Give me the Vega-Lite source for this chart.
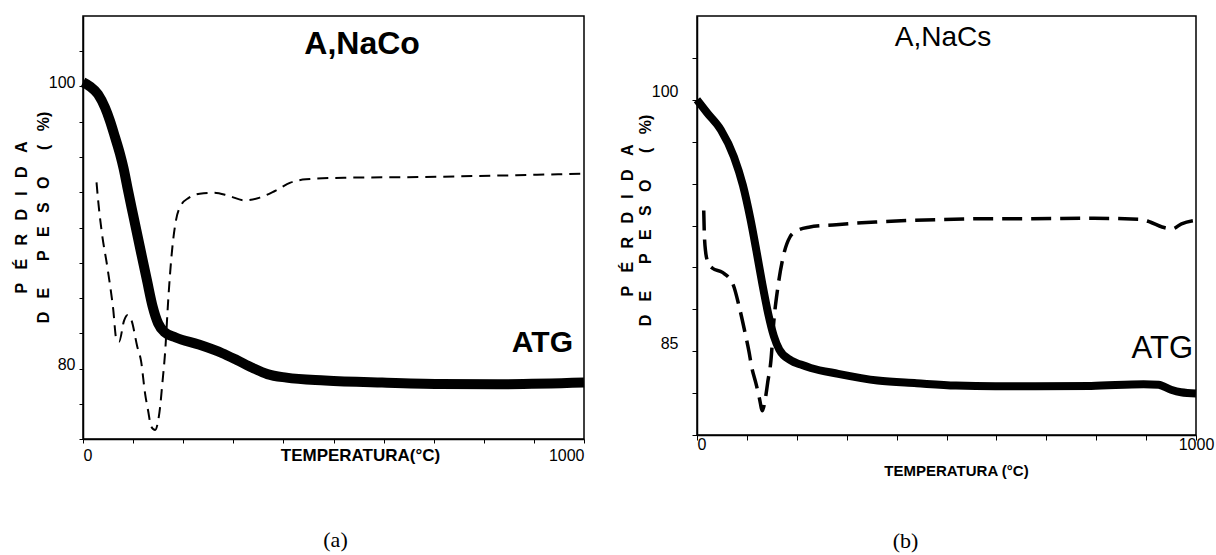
{
  "$schema": "https://vega.github.io/schema/vega-lite/v6.json",
  "background": "white",
  "padding": {"left": 12, "top": 15, "right": 0, "bottom": 0},
  "spacing": 13,
  "config": {
    "view": {"stroke": "black", "strokeWidth": 1.5},
    "axis": {
      "domainColor": "black", "domainWidth": 1.5, "tickColor": "black", "tickWidth": 1,
      "labelColor": "black", "titleColor": "black", "grid": false,
      "labelFont": "Liberation Sans", "titleFont": "Liberation Sans", "labelOverlap": false
    },
    "title": {"color": "black"}
  },
  "datasets": {
    "curves": [
      {"panel": "a", "series": "TG", "temp": 0, "value": 100.3},
      {"panel": "a", "series": "TG", "temp": 14, "value": 100.0},
      {"panel": "a", "series": "TG", "temp": 30, "value": 99.45},
      {"panel": "a", "series": "TG", "temp": 44, "value": 98.5},
      {"panel": "a", "series": "TG", "temp": 54, "value": 97.55},
      {"panel": "a", "series": "TG", "temp": 64, "value": 96.4},
      {"panel": "a", "series": "TG", "temp": 74, "value": 95.2},
      {"panel": "a", "series": "TG", "temp": 81, "value": 94.2},
      {"panel": "a", "series": "TG", "temp": 90, "value": 92.6},
      {"panel": "a", "series": "TG", "temp": 100, "value": 90.9},
      {"panel": "a", "series": "TG", "temp": 116, "value": 88.2},
      {"panel": "a", "series": "TG", "temp": 128, "value": 86.2},
      {"panel": "a", "series": "TG", "temp": 139, "value": 84.4},
      {"panel": "a", "series": "TG", "temp": 150, "value": 83.2},
      {"panel": "a", "series": "TG", "temp": 162, "value": 82.6},
      {"panel": "a", "series": "TG", "temp": 185, "value": 82.2},
      {"panel": "a", "series": "TG", "temp": 231, "value": 81.7},
      {"panel": "a", "series": "TG", "temp": 277, "value": 81.1},
      {"panel": "a", "series": "TG", "temp": 307, "value": 80.6},
      {"panel": "a", "series": "TG", "temp": 338, "value": 80.05},
      {"panel": "a", "series": "TG", "temp": 368, "value": 79.6},
      {"panel": "a", "series": "TG", "temp": 406, "value": 79.35},
      {"panel": "a", "series": "TG", "temp": 483, "value": 79.15},
      {"panel": "a", "series": "TG", "temp": 597, "value": 79.0},
      {"panel": "a", "series": "TG", "temp": 712, "value": 78.9},
      {"panel": "a", "series": "TG", "temp": 827, "value": 78.88},
      {"panel": "a", "series": "TG", "temp": 1000, "value": 79.0},

      {"panel": "a", "series": "DTG", "temp": 27, "value": 93.2},
      {"panel": "a", "series": "DTG", "temp": 30, "value": 92.0},
      {"panel": "a", "series": "DTG", "temp": 37, "value": 89.8},
      {"panel": "a", "series": "DTG", "temp": 49, "value": 87.1},
      {"panel": "a", "series": "DTG", "temp": 60, "value": 84.3},
      {"panel": "a", "series": "DTG", "temp": 67, "value": 82.0},
      {"panel": "a", "series": "DTG", "temp": 72, "value": 81.9},
      {"panel": "a", "series": "DTG", "temp": 82, "value": 83.4},
      {"panel": "a", "series": "DTG", "temp": 89, "value": 83.8},
      {"panel": "a", "series": "DTG", "temp": 97, "value": 83.4},
      {"panel": "a", "series": "DTG", "temp": 108, "value": 81.6},
      {"panel": "a", "series": "DTG", "temp": 116, "value": 80.5},
      {"panel": "a", "series": "DTG", "temp": 124, "value": 78.2},
      {"panel": "a", "series": "DTG", "temp": 130, "value": 77.0},
      {"panel": "a", "series": "DTG", "temp": 136, "value": 75.9},
      {"panel": "a", "series": "DTG", "temp": 144, "value": 75.64},
      {"panel": "a", "series": "DTG", "temp": 150, "value": 76.3},
      {"panel": "a", "series": "DTG", "temp": 154, "value": 77.3},
      {"panel": "a", "series": "DTG", "temp": 158, "value": 78.8},
      {"panel": "a", "series": "DTG", "temp": 164, "value": 81.2},
      {"panel": "a", "series": "DTG", "temp": 170, "value": 84.8},
      {"panel": "a", "series": "DTG", "temp": 177, "value": 88.1},
      {"panel": "a", "series": "DTG", "temp": 185, "value": 90.4},
      {"panel": "a", "series": "DTG", "temp": 196, "value": 91.6},
      {"panel": "a", "series": "DTG", "temp": 211, "value": 92.1},
      {"panel": "a", "series": "DTG", "temp": 233, "value": 92.4},
      {"panel": "a", "series": "DTG", "temp": 262, "value": 92.47},
      {"panel": "a", "series": "DTG", "temp": 292, "value": 92.23},
      {"panel": "a", "series": "DTG", "temp": 322, "value": 91.93},
      {"panel": "a", "series": "DTG", "temp": 353, "value": 92.12},
      {"panel": "a", "series": "DTG", "temp": 383, "value": 92.59},
      {"panel": "a", "series": "DTG", "temp": 414, "value": 93.18},
      {"panel": "a", "series": "DTG", "temp": 445, "value": 93.42},
      {"panel": "a", "series": "DTG", "temp": 521, "value": 93.53},
      {"panel": "a", "series": "DTG", "temp": 674, "value": 93.58},
      {"panel": "a", "series": "DTG", "temp": 827, "value": 93.68},
      {"panel": "a", "series": "DTG", "temp": 1000, "value": 93.82},

      {"panel": "b", "series": "TG", "temp": 0, "value": 100.0},
      {"panel": "b", "series": "TG", "temp": 21, "value": 99.2},
      {"panel": "b", "series": "TG", "temp": 48, "value": 98.2},
      {"panel": "b", "series": "TG", "temp": 74, "value": 96.6},
      {"panel": "b", "series": "TG", "temp": 92, "value": 94.9},
      {"panel": "b", "series": "TG", "temp": 107, "value": 92.9},
      {"panel": "b", "series": "TG", "temp": 119, "value": 91.0},
      {"panel": "b", "series": "TG", "temp": 131, "value": 89.0},
      {"panel": "b", "series": "TG", "temp": 143, "value": 87.2},
      {"panel": "b", "series": "TG", "temp": 154, "value": 85.9},
      {"panel": "b", "series": "TG", "temp": 165, "value": 85.1},
      {"panel": "b", "series": "TG", "temp": 188, "value": 84.45},
      {"panel": "b", "series": "TG", "temp": 208, "value": 84.2},
      {"panel": "b", "series": "TG", "temp": 228, "value": 84.0},
      {"panel": "b", "series": "TG", "temp": 283, "value": 83.65},
      {"panel": "b", "series": "TG", "temp": 362, "value": 83.25},
      {"panel": "b", "series": "TG", "temp": 440, "value": 83.09},
      {"panel": "b", "series": "TG", "temp": 519, "value": 82.95},
      {"panel": "b", "series": "TG", "temp": 598, "value": 82.91},
      {"panel": "b", "series": "TG", "temp": 676, "value": 82.91},
      {"panel": "b", "series": "TG", "temp": 790, "value": 82.93},
      {"panel": "b", "series": "TG", "temp": 895, "value": 83.03},
      {"panel": "b", "series": "TG", "temp": 925, "value": 83.0},
      {"panel": "b", "series": "TG", "temp": 950, "value": 82.7},
      {"panel": "b", "series": "TG", "temp": 970, "value": 82.55},
      {"panel": "b", "series": "TG", "temp": 1000, "value": 82.48},

      {"panel": "b", "series": "DTG", "temp": 13.5, "value": 93.4},
      {"panel": "b", "series": "DTG", "temp": 14.5, "value": 92.2},
      {"panel": "b", "series": "DTG", "temp": 17, "value": 91.0},
      {"panel": "b", "series": "DTG", "temp": 22, "value": 90.3},
      {"panel": "b", "series": "DTG", "temp": 31, "value": 89.95},
      {"panel": "b", "series": "DTG", "temp": 51, "value": 89.7},
      {"panel": "b", "series": "DTG", "temp": 72, "value": 89.0},
      {"panel": "b", "series": "DTG", "temp": 85, "value": 87.6},
      {"panel": "b", "series": "DTG", "temp": 97, "value": 86.0},
      {"panel": "b", "series": "DTG", "temp": 104, "value": 85.0},
      {"panel": "b", "series": "DTG", "temp": 110, "value": 84.0},
      {"panel": "b", "series": "DTG", "temp": 118, "value": 83.1},
      {"panel": "b", "series": "DTG", "temp": 125, "value": 82.2},
      {"panel": "b", "series": "DTG", "temp": 131, "value": 81.45},
      {"panel": "b", "series": "DTG", "temp": 136, "value": 82.0},
      {"panel": "b", "series": "DTG", "temp": 142, "value": 83.2},
      {"panel": "b", "series": "DTG", "temp": 148, "value": 84.4},
      {"panel": "b", "series": "DTG", "temp": 154, "value": 86.8},
      {"panel": "b", "series": "DTG", "temp": 162, "value": 88.8},
      {"panel": "b", "series": "DTG", "temp": 174, "value": 90.8},
      {"panel": "b", "series": "DTG", "temp": 186, "value": 91.8},
      {"panel": "b", "series": "DTG", "temp": 201, "value": 92.2},
      {"panel": "b", "series": "DTG", "temp": 224, "value": 92.4},
      {"panel": "b", "series": "DTG", "temp": 279, "value": 92.55},
      {"panel": "b", "series": "DTG", "temp": 358, "value": 92.71},
      {"panel": "b", "series": "DTG", "temp": 436, "value": 92.81},
      {"panel": "b", "series": "DTG", "temp": 515, "value": 92.87},
      {"panel": "b", "series": "DTG", "temp": 594, "value": 92.91},
      {"panel": "b", "series": "DTG", "temp": 672, "value": 92.91},
      {"panel": "b", "series": "DTG", "temp": 790, "value": 92.93},
      {"panel": "b", "series": "DTG", "temp": 885, "value": 92.87},
      {"panel": "b", "series": "DTG", "temp": 908, "value": 92.71},
      {"panel": "b", "series": "DTG", "temp": 932, "value": 92.41},
      {"panel": "b", "series": "DTG", "temp": 952, "value": 92.3},
      {"panel": "b", "series": "DTG", "temp": 971, "value": 92.6},
      {"panel": "b", "series": "DTG", "temp": 1000, "value": 92.81}
    ]
  },
  "hconcat": [
    {
      "width": 501,
      "height": 423,
      "title": {"text": "(a)", "orient": "bottom", "font": "Liberation Serif", "fontSize": 22, "fontWeight": "normal", "offset": 67, "dx": 2},
      "encoding": {
        "x": {
          "field": "temp", "type": "quantitative",
          "scale": {"domain": [0, 1000], "nice": false, "zero": false},
          "axis": {
            "values": [0, 100, 200, 300, 400, 500, 600, 700, 800, 900, 1000],
            "labelExpr": "datum.value == 0 ? '0' : (datum.value == 1000 ? '1000' : '')",
            "labelFlush": true,
            "labelFontSize": 16, "labelPadding": 4, "tickSize": 4,
            "title": "TEMPERATURA(°C)", "titleFontSize": 17, "titleFontWeight": "bold",
            "titleX": 277, "titleY": 8, "titleBaseline": "top", "titleAlign": "center"
          }
        },
        "y": {
          "field": "value", "type": "quantitative",
          "scale": {"domain": [75, 105], "nice": false, "zero": false},
          "axis": {
            "values": [75, 77.5, 80, 82.5, 85, 87.5, 90, 92.5, 95, 97.5, 100, 102.5],
            "labelExpr": "datum.value == 80 || datum.value == 100 ? datum.label : ''",
            "labelFontSize": 16, "labelPadding": 4, "tickSize": 4, "labelOffset": -4,
            "title": ["P\u2002\u2004É\u2002\u2004R\u2002\u2004D\u2002\u2004I\u2002\u2004D\u2002\u2004A", "D\u2002\u2004E\u2002\u2004\u2002\u2004P\u2002\u2004E\u2002\u2004S\u2002\u2004O\u2002\u2004\u2002\u2004(\u2002\u2004%)"],
            "titleFontSize": 16, "titleFontWeight": "bold", "titleLineHeight": 22, "titlePadding": -3,
            "titleY": 201
          }
        }
      },
      "layer": [
        {
          "data": {"name": "curves"},
          "transform": [{"filter": "datum.panel == 'a' && datum.series == 'TG'"}],
          "mark": {"type": "line", "color": "black", "strokeWidth": 10, "interpolate": "monotone"}
        },
        {
          "data": {"name": "curves"},
          "transform": [{"filter": "datum.panel == 'a' && datum.series == 'DTG'"}],
          "mark": {"type": "line", "color": "black", "strokeWidth": 2, "strokeDash": [11, 7], "interpolate": "monotone"}
        },
        {
          "data": {"values": [{"temp": 557, "value": 102.3, "label": "A,NaCo"}]},
          "mark": {"type": "text", "font": "Liberation Sans", "fontSize": 32, "fontWeight": "bold", "align": "center", "baseline": "alphabetic", "color": "black"},
          "encoding": {"text": {"field": "label"}}
        },
        {
          "data": {"values": [{"temp": 978, "value": 81.2, "label": "ATG"}]},
          "mark": {"type": "text", "font": "Liberation Sans", "fontSize": 30, "fontWeight": "bold", "align": "right", "baseline": "alphabetic", "color": "black"},
          "encoding": {"text": {"field": "label"}}
        }
      ]
    },
    {
      "width": 499,
      "height": 419,
      "title": {"text": "(b)", "orient": "bottom", "font": "Liberation Serif", "fontSize": 22, "fontWeight": "normal", "offset": 53, "dx": -41},
      "encoding": {
        "x": {
          "field": "temp", "type": "quantitative",
          "scale": {"domain": [0, 1000], "nice": false, "zero": false},
          "axis": {
            "values": [0, 100, 200, 300, 400, 500, 600, 700, 800, 900, 1000],
            "labelExpr": "datum.value == 0 ? '0' : (datum.value == 1000 ? '1000' : '')",
            "labelAlign": {"condition": {"test": "datum.value == 0", "value": "left"}, "value": "center"},
            "labelFontSize": 16, "labelPadding": -4, "tickSize": 5,
            "title": "TEMPERATURA (°C)", "titleFontSize": 15, "titleFontWeight": "bold",
            "titleX": 259, "titleY": 28, "titleBaseline": "top", "titleAlign": "center"
          }
        },
        "y": {
          "field": "value", "type": "quantitative",
          "scale": {"domain": [80, 105], "nice": false, "zero": false},
          "axis": {
            "values": [80, 82.5, 85, 87.5, 90, 92.5, 95, 97.5, 100, 102.5],
            "labelExpr": "datum.value == 85 || datum.value == 100 ? datum.label : ''",
            "labelFontSize": 16, "labelPadding": 14, "tickSize": 5,
            "labelBaseline": "alphabetic", "labelOffset": -3,
            "title": ["P\u2002\u2004É\u2002\u2004R\u2002\u2004D\u2002\u2004I\u2002\u2004D\u2002\u2004A", "D\u2002\u2004E\u2002\u2004\u2002\u2004P\u2002\u2004E\u2002\u2004S\u2002\u2004O\u2002\u2004\u2002\u2004(\u2002\u2004%)"],
            "titleFontSize": 16, "titleFontWeight": "bold", "titleLineHeight": 18, "titlePadding": -2,
            "titleY": 204
          }
        }
      },
      "layer": [
        {
          "data": {"name": "curves"},
          "transform": [{"filter": "datum.panel == 'b' && datum.series == 'TG'"}],
          "mark": {"type": "line", "color": "black", "strokeWidth": 8, "interpolate": "monotone"}
        },
        {
          "data": {"name": "curves"},
          "transform": [{"filter": "datum.panel == 'b' && datum.series == 'DTG'"}],
          "mark": {"type": "line", "color": "black", "strokeWidth": 3.5, "strokeDash": [20, 9], "interpolate": "monotone"}
        },
        {
          "data": {"values": [{"temp": 493, "value": 103.2, "label": "A,NaCs"}]},
          "mark": {"type": "text", "font": "Liberation Sans", "fontSize": 28, "fontWeight": "normal", "align": "center", "baseline": "alphabetic", "color": "black"},
          "encoding": {"text": {"field": "label"}}
        },
        {
          "data": {"values": [{"temp": 994, "value": 84.6, "label": "ATG"}]},
          "mark": {"type": "text", "font": "Liberation Sans", "fontSize": 31, "fontWeight": "normal", "align": "right", "baseline": "alphabetic", "color": "black"},
          "encoding": {"text": {"field": "label"}}
        }
      ]
    }
  ]
}
